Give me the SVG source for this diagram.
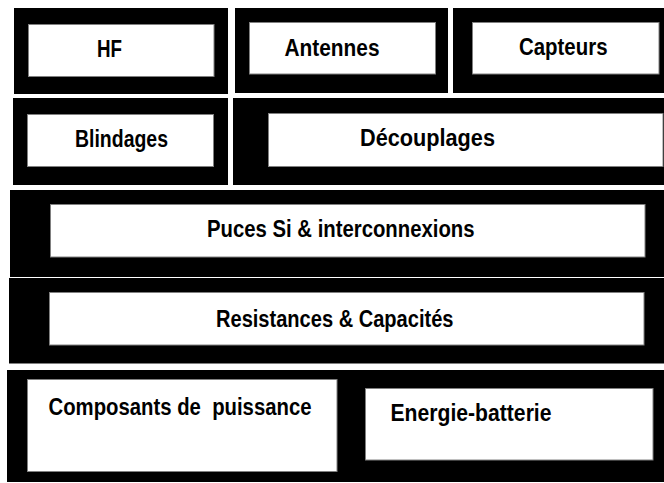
<svg xmlns="http://www.w3.org/2000/svg" width="664" height="483" viewBox="0 0 664 483">
<style>
.blk{fill:#000}
.box{fill:#fff;stroke:#808080;stroke-width:1}
text{font-family:"Liberation Sans Narrow","Liberation Sans",Arial,sans-serif;font-weight:bold;font-size:23px;fill:#000;white-space:pre}
</style>
<rect width="664" height="483" fill="#fff"/>
<g id="hf">
<rect class="blk" x="14" y="8" width="214" height="86"/>
<rect class="box" x="28.5" y="24.5" width="185.5" height="52"/>
<text x="97" y="57" textLength="25" lengthAdjust="spacingAndGlyphs">HF</text>
</g>
<g id="antennes">
<rect class="blk" x="235" y="8" width="213" height="85"/>
<rect class="box" x="249.5" y="22.5" width="186" height="51.5"/>
<text x="284.5" y="55.5" textLength="95" lengthAdjust="spacingAndGlyphs">Antennes</text>
</g>
<g id="capteurs">
<rect class="blk" x="453" y="8" width="211" height="85"/>
<rect class="box" x="472.5" y="22.5" width="186.5" height="51.5"/>
<text x="519" y="54.5" textLength="88.5" lengthAdjust="spacingAndGlyphs">Capteurs</text>
</g>
<g id="blindages">
<rect class="blk" x="13" y="98" width="215" height="87"/>
<rect class="box" x="27.5" y="114.5" width="186" height="52"/>
<text x="75" y="147" textLength="93" lengthAdjust="spacingAndGlyphs">Blindages</text>
</g>
<g id="decouplages">
<rect class="blk" x="233" y="98" width="431" height="87"/>
<rect class="box" x="268.5" y="113.5" width="394.5" height="53"/>
<text x="360" y="146" textLength="135" lengthAdjust="spacingAndGlyphs">Découplages</text>
</g>
<g id="puces">
<rect class="blk" x="10" y="190" width="654" height="87"/>
<rect class="box" x="50.5" y="204.5" width="594.5" height="52.5"/>
<text x="207" y="237" textLength="267.5" lengthAdjust="spacingAndGlyphs">Puces Si &amp; interconnexions</text>
</g>
<g id="resistances">
<rect class="blk" x="9" y="278" width="655" height="85.5"/>
<rect class="box" x="49.5" y="292.5" width="594.5" height="52.5"/>
<text x="216" y="326.5" textLength="237.5" lengthAdjust="spacingAndGlyphs">Resistances &amp; Capacités</text>
</g>
<g id="bas">
<rect class="blk" x="7" y="370" width="657" height="112"/>
<g id="composants">
<rect class="box" x="27.5" y="379.5" width="309.5" height="92"/>
<text x="48.5" y="415" textLength="263" lengthAdjust="spacingAndGlyphs">Composants de  puissance</text>
</g>
<g id="energie">
<rect class="box" x="365.5" y="388.5" width="287.5" height="71.5"/>
<text x="390.5" y="421" textLength="161" lengthAdjust="spacingAndGlyphs">Energie-batterie</text>
</g>
</g>
<g id="connectors"/>
</svg>
